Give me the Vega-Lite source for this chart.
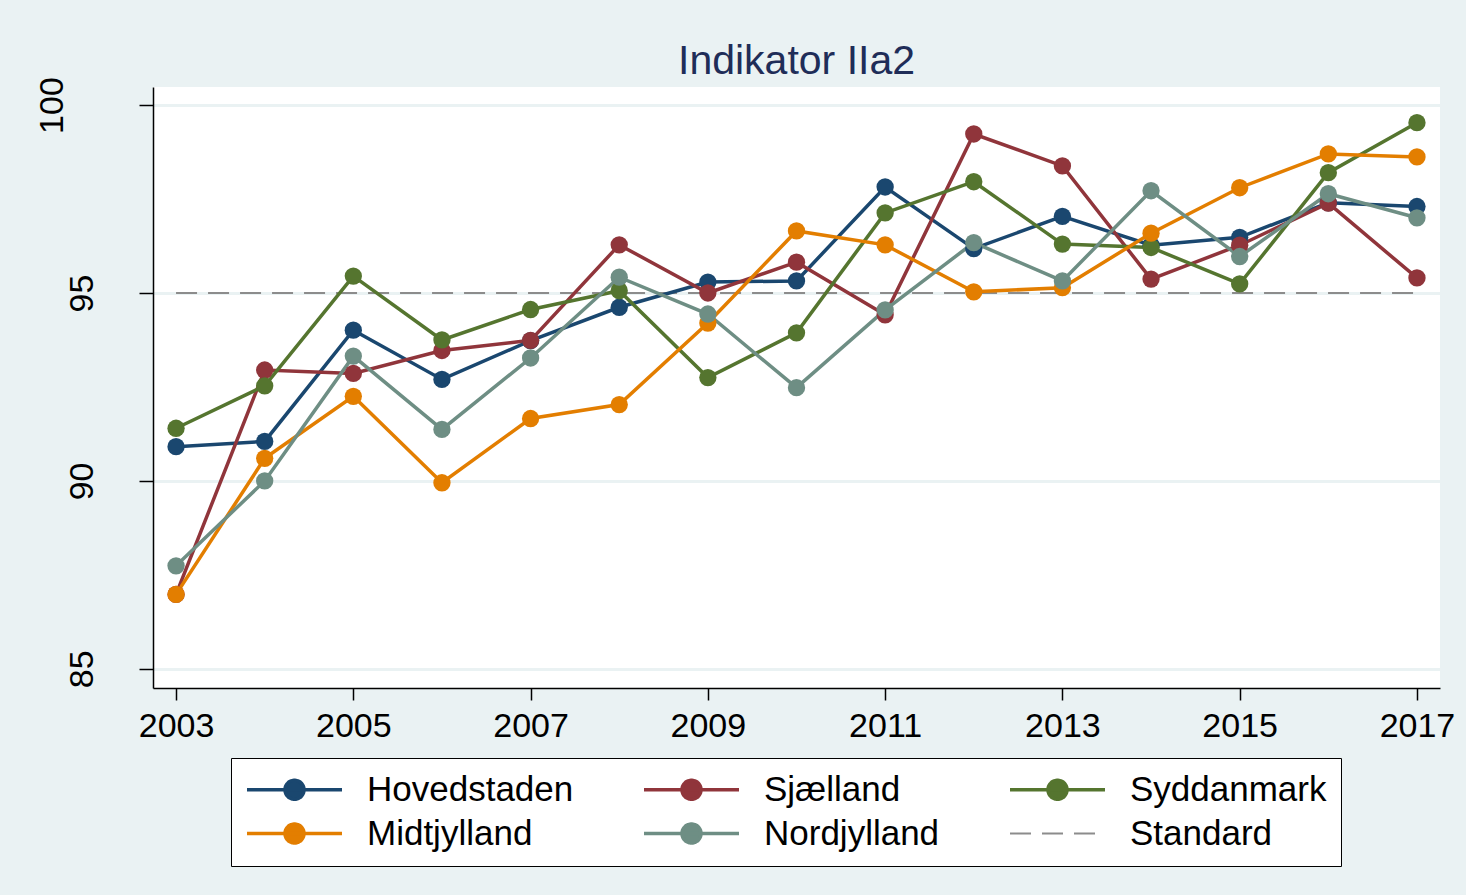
{
  "$schema": "https://vega.github.io/schema/vega-lite/v6.json",
  "autosize": {"type": "none"},
  "width": 1287,
  "height": 601,
  "padding": {"left": 153, "top": 87, "right": 26, "bottom": 207},
  "background": "#eaf2f3",
  "title": {"text": "Indikator IIa2", "font": "Liberation Sans", "fontSize": 41, "fontWeight": "normal", "color": "#1f2d58", "offset": -6, "anchor": "middle", "frame": "group"},
  "config": {
    "view": {"fill": "white", "stroke": null},
    "font": "Liberation Sans",
    "axis": {"labelFont": "Liberation Sans", "labelFontSize": 34, "labelColor": "black", "domainColor": "black", "domainWidth": 1.5, "tickColor": "black", "tickWidth": 1.5, "title": null}
  },
  "data": {"values": [
    {"year": 2003, "value": 95, "series": "Standard"},
    {"year": 2017, "value": 95, "series": "Standard"},
    {"year": 2003, "value": 90.91, "series": "Hovedstaden"},
    {"year": 2004, "value": 91.05, "series": "Hovedstaden"},
    {"year": 2005, "value": 94.01, "series": "Hovedstaden"},
    {"year": 2006, "value": 92.70, "series": "Hovedstaden"},
    {"year": 2007, "value": 93.73, "series": "Hovedstaden"},
    {"year": 2008, "value": 94.62, "series": "Hovedstaden"},
    {"year": 2009, "value": 95.29, "series": "Hovedstaden"},
    {"year": 2010, "value": 95.32, "series": "Hovedstaden"},
    {"year": 2011, "value": 97.82, "series": "Hovedstaden"},
    {"year": 2012, "value": 96.18, "series": "Hovedstaden"},
    {"year": 2013, "value": 97.04, "series": "Hovedstaden"},
    {"year": 2014, "value": 96.27, "series": "Hovedstaden"},
    {"year": 2015, "value": 96.48, "series": "Hovedstaden"},
    {"year": 2016, "value": 97.40, "series": "Hovedstaden"},
    {"year": 2017, "value": 97.30, "series": "Hovedstaden"},
    {"year": 2003, "value": 86.98, "series": "Sjælland"},
    {"year": 2004, "value": 92.95, "series": "Sjælland"},
    {"year": 2005, "value": 92.86, "series": "Sjælland"},
    {"year": 2006, "value": 93.47, "series": "Sjælland"},
    {"year": 2007, "value": 93.74, "series": "Sjælland"},
    {"year": 2008, "value": 96.28, "series": "Sjælland"},
    {"year": 2009, "value": 95.00, "series": "Sjælland"},
    {"year": 2010, "value": 95.82, "series": "Sjælland"},
    {"year": 2011, "value": 94.42, "series": "Sjælland"},
    {"year": 2012, "value": 99.23, "series": "Sjælland"},
    {"year": 2013, "value": 98.38, "series": "Sjælland"},
    {"year": 2014, "value": 95.37, "series": "Sjælland"},
    {"year": 2015, "value": 96.27, "series": "Sjælland"},
    {"year": 2016, "value": 97.39, "series": "Sjælland"},
    {"year": 2017, "value": 95.40, "series": "Sjælland"},
    {"year": 2003, "value": 91.40, "series": "Syddanmark"},
    {"year": 2004, "value": 92.53, "series": "Syddanmark"},
    {"year": 2005, "value": 95.45, "series": "Syddanmark"},
    {"year": 2006, "value": 93.75, "series": "Syddanmark"},
    {"year": 2007, "value": 94.56, "series": "Syddanmark"},
    {"year": 2008, "value": 95.06, "series": "Syddanmark"},
    {"year": 2009, "value": 92.75, "series": "Syddanmark"},
    {"year": 2010, "value": 93.94, "series": "Syddanmark"},
    {"year": 2011, "value": 97.13, "series": "Syddanmark"},
    {"year": 2012, "value": 97.96, "series": "Syddanmark"},
    {"year": 2013, "value": 96.30, "series": "Syddanmark"},
    {"year": 2014, "value": 96.21, "series": "Syddanmark"},
    {"year": 2015, "value": 95.24, "series": "Syddanmark"},
    {"year": 2016, "value": 98.20, "series": "Syddanmark"},
    {"year": 2017, "value": 99.53, "series": "Syddanmark"},
    {"year": 2003, "value": 86.98, "series": "Midtjylland"},
    {"year": 2004, "value": 90.60, "series": "Midtjylland"},
    {"year": 2005, "value": 92.25, "series": "Midtjylland"},
    {"year": 2006, "value": 89.95, "series": "Midtjylland"},
    {"year": 2007, "value": 91.66, "series": "Midtjylland"},
    {"year": 2008, "value": 92.03, "series": "Midtjylland"},
    {"year": 2009, "value": 94.20, "series": "Midtjylland"},
    {"year": 2010, "value": 96.65, "series": "Midtjylland"},
    {"year": 2011, "value": 96.28, "series": "Midtjylland"},
    {"year": 2012, "value": 95.03, "series": "Midtjylland"},
    {"year": 2013, "value": 95.14, "series": "Midtjylland"},
    {"year": 2014, "value": 96.59, "series": "Midtjylland"},
    {"year": 2015, "value": 97.80, "series": "Midtjylland"},
    {"year": 2016, "value": 98.70, "series": "Midtjylland"},
    {"year": 2017, "value": 98.62, "series": "Midtjylland"},
    {"year": 2003, "value": 87.74, "series": "Nordjylland"},
    {"year": 2004, "value": 90.00, "series": "Nordjylland"},
    {"year": 2005, "value": 93.32, "series": "Nordjylland"},
    {"year": 2006, "value": 91.37, "series": "Nordjylland"},
    {"year": 2007, "value": 93.27, "series": "Nordjylland"},
    {"year": 2008, "value": 95.42, "series": "Nordjylland"},
    {"year": 2009, "value": 94.44, "series": "Nordjylland"},
    {"year": 2010, "value": 92.48, "series": "Nordjylland"},
    {"year": 2011, "value": 94.55, "series": "Nordjylland"},
    {"year": 2012, "value": 96.34, "series": "Nordjylland"},
    {"year": 2013, "value": 95.32, "series": "Nordjylland"},
    {"year": 2014, "value": 97.72, "series": "Nordjylland"},
    {"year": 2015, "value": 95.97, "series": "Nordjylland"},
    {"year": 2016, "value": 97.64, "series": "Nordjylland"},
    {"year": 2017, "value": 97.00, "series": "Nordjylland"}
  ]},
  "encoding": {
    "x": {"field": "year", "type": "quantitative",
      "scale": {"domain": [2002.74, 2017.26], "nice": false, "zero": false},
      "axis": {"values": [2003, 2005, 2007, 2009, 2011, 2013, 2015, 2017], "format": "d", "grid": false, "tickSize": 12, "labelPadding": 9, "labelAngle": 0, "labelBaseline": "top", "labelAlign": "center"}},
    "y": {"field": "value", "type": "quantitative",
      "scale": {"domain": [84.49, 100.48], "nice": false, "zero": false},
      "axis": {"values": [85, 90, 95, 100], "grid": true, "gridColor": "#eaf2f3", "gridWidth": 3, "tickSize": 14, "labelPadding": 47, "labelAngle": 270, "labelAlign": "center", "labelLineHeight": 79,
        "labelBaseline": {"condition": {"test": "datum.value == 100", "value": "line-bottom"}, "value": "alphabetic"}}},
    "color": {"field": "series", "type": "nominal",
      "scale": {"domain": ["Hovedstaden", "Sjælland", "Syddanmark", "Midtjylland", "Nordjylland", "Standard"],
                "range": ["#1a476f", "#90353b", "#55752f", "#e37e00", "#6e8e84", "#8c8c8c"]},
      "legend": {
        "title": null, "orient": "none", "legendX": 78, "legendY": 671, "direction": "horizontal", "columns": 3,
        "symbolSize": 361, "symbolOffset": 32, "labelOffset": 55, "symbolStrokeWidth": 3,
        "labelFont": "Liberation Sans", "labelFontSize": 35, "labelColor": "black", "labelLimit": 500,
        "columnPadding": 63, "rowPadding": 8, "padding": 14, "strokeColor": "black", "fillColor": "white",
        "encoding": {"symbols": {
          "shape": {"value": {"expr": "datum.value === 'Standard' ? 'M-5,0H5' : 'M-5,0H5M-1,0A1,1,0,1,0,1,0A1,1,0,1,0,-1,0Z'"}},
          "fill": {"value": {"expr": "datum.value === 'Standard' ? 'transparent' : scale('color', datum.value)"}},
          "stroke": {"value": {"expr": "scale('color', datum.value)"}},
          "strokeWidth": {"value": {"expr": "datum.value === 'Standard' ? 2 : 3.5"}},
          "strokeDash": {"value": {"expr": "datum.value === 'Standard' ? [21, 11] : [1, 0]"}},
          "opacity": {"value": 1}
        }}
      }}
  },
  "layer": [
    {"transform": [{"filter": "datum.series === 'Standard'"}],
     "mark": {"type": "line", "strokeWidth": 2, "strokeDash": [21, 11]}},
    {"transform": [{"filter": "datum.series !== 'Standard'"}],
     "mark": {"type": "line", "strokeWidth": 3.5, "point": {"filled": true, "size": 300, "opacity": 1}}}
  ]
}
